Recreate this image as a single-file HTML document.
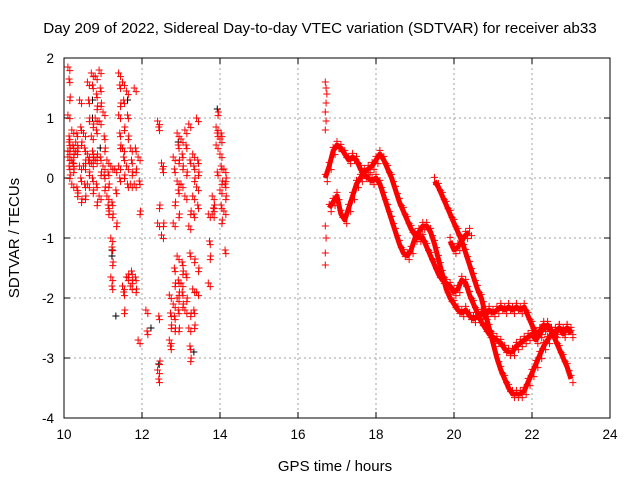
<!DOCTYPE html>
<html><head><meta charset="utf-8"><style>
html,body{margin:0;padding:0;background:#fff;}
svg{display:block;font-family:"Liberation Sans",sans-serif;}
</style></head><body>
<svg id="chart" width="640" height="480" viewBox="0 0 640 480">
<text x="320" y="33" font-size="15.2" text-anchor="middle">Day 209 of 2022, Sidereal Day-to-day VTEC variation (SDTVAR) for receiver ab33</text>
<text x="335" y="471" font-size="15" text-anchor="middle">GPS time / hours</text>
<text x="19" y="238" font-size="15" text-anchor="middle" transform="rotate(-90 19 238)">SDTVAR / TECUs</text>
<g id="grid"></g>
<g id="axes"></g>
<g id="marks"></g>
<rect x="64" y="58" width="546" height="360" fill="none" stroke="#000" stroke-width="1"/>
</svg>
<script>
const xTicks = [10,12,14,16,18,20,22,24];
const yTicks = [-4,-3,-2,-1,0,1,2];
const leftHours = [10.1,10.2,10.3,10.4,10.5,10.6,10.7,10.8,10.9,11.0,11.1,11.2,11.3,11.4,11.5,11.6,11.7,11.8,11.9,12.1,12.4,12.5,12.7,12.8,12.9,13.0,13.1,13.2,13.3,13.4,13.7,13.8,13.9,14.0,14.1];
const leftValues = [
[1.85,1.65,1.35,1.05,0.7,0.5,0.35,0.2,0.05,0.45,0.6],
[0.8,0.55,0.4,0.3,0.25,0.15,-0.1],
[0.6,0.75,0.5,0.45,-0.15,-0.25],
[1.3,0.85,0.6,0.2,0.0,-0.35],
[0.75,0.5,0.3,0.2,-0.1,-0.3],
[1.6,1.3,1.0,0.4,0.3,0.1,-0.1],
[1.75,1.55,0.9,0.7,0.45,0.35,0.25,0.0,-0.2],
[1.7,1.4,1.2,1.0,0.8,0.4,0.3,-0.1,-0.4],
[1.8,1.5,1.25,0.95,0.35,0.1,-0.3],
[1.1,0.7,0.5,0.2,0.05,-0.15],
[0.3,0.1,-0.1,-0.3,-0.45,-0.55],
[0.2,-0.4,-0.6,-1.0,-1.15,-1.4,-1.65,-1.8],
[0.15,-0.2,-0.75],
[1.75,1.55,1.25,1.05,0.75,0.55,0.2,0.0],
[1.6,1.3,0.85,0.5,0.35,0.05,-1.8,-1.9,-2.2],
[1.45,1.05,0.7,0.2,-0.1,-1.6,-1.65],
[0.5,0.3,0.1,-0.1,-1.55,-1.7,-1.8],
[1.5,0.5,0.15,-0.1,-1.65,-1.85],
[0.35,-0.05,-0.55,-2.7],
[-2.2,-2.55],
[0.95,0.85,-0.45,-0.75,-2.3,-3.05,-3.2,-3.35],
[0.25,0.15,-0.75,-0.95],
[-1.95,-2.25,-2.45,-2.7,-2.8],
[0.35,0.15,-0.4,-0.75,-1.5,-1.75,-2.1,-2.3,-2.5],
[0.75,0.55,0.3,-0.05,-0.2,-0.6,-1.3,-1.7,-1.9,-2.0,-2.2,-2.5],
[0.65,0.4,0.2,-0.1,-1.4,-1.55,-1.75,-1.9,-2.1],
[0.8,0.55,0.1,-0.3,-1.6,-2.0,-2.2],
[0.9,0.3,-0.55,-0.8,-1.25,-2.25,-2.5,-2.8,-3.0],
[0.4,0.2,0.0,-0.3,-0.6,-1.35,-1.85,-2.2,-2.45],
[1.0,0.3,0.1,-0.15,-0.45,-1.5,-1.9],
[-0.6,-1.05,-1.3,-1.75],
[-0.3,-0.5,-0.45,-0.6],
[0.55,0.75,1.1,0.85,0.1],
[0.4,0.2,-0.05,-0.2,-0.45,-0.7,0.65,0.75],
[0.15,-0.1,-0.3,-0.55,-1.2,0.0]
];
const blackHours = [10.7,10.7,11.2,11.2,11.3,11.6,12.2,12.4,13.3,13.9,10.9,12.9];
const blackValues = [1.0,1.3,-1.2,-1.3,-2.3,1.3,-2.5,-3.1,-2.9,1.15,0.5,0.6];
const spikeHours = [16.7,16.72,16.74,16.72,16.7,16.72,16.7,16.7,16.72,16.7,16.7];
const spikeValues = [1.6,1.5,1.4,1.25,1.1,0.95,0.8,-0.8,-1.0,-1.25,-1.45];
const t1Hours = [16.7,16.8,16.9,17.0,17.1,17.2,17.3,17.4,17.5,17.6,17.7,17.8,17.9,18.0,18.1,18.2,18.3,18.4,18.5,18.6,18.7,18.8,18.9,19.0,19.1,19.2,19.3,19.4,19.5,19.6,19.7,19.8,19.9,20.0,20.1,20.2,20.3,20.4,20.5,20.6,20.7,20.8,20.9,21.0,21.1,21.2,21.3,21.4,21.5,21.6,21.7,21.8,21.9,22.0,22.1,22.2,22.3,22.4,22.5,22.6,22.7,22.8,22.9,23.0];
const t1Values = [0.0,0.2,0.45,0.55,0.5,0.4,0.3,0.35,0.3,0.15,0.05,0.0,-0.05,0.0,-0.1,-0.3,-0.5,-0.7,-0.9,-1.1,-1.25,-1.3,-1.2,-1.0,-0.9,-0.8,-0.8,-0.9,-1.1,-1.35,-1.6,-1.85,-2.0,-2.1,-2.2,-2.25,-2.2,-2.3,-2.35,-2.3,-2.25,-2.3,-2.2,-2.25,-2.2,-2.15,-2.2,-2.15,-2.2,-2.15,-2.2,-2.15,-2.3,-2.45,-2.6,-2.55,-2.45,-2.5,-2.55,-2.6,-2.5,-2.55,-2.5,-2.6];
const t2Hours = [16.8,16.9,17.0,17.1,17.2,17.3,17.4,17.5,17.6,17.7,17.8,17.9,18.0,18.1,18.2,18.3,18.4,18.5,18.6,18.7,18.8,18.9,19.0,19.1,19.2,19.3,19.4,19.5,19.6,19.7,19.8,19.9,20.0,20.1,20.2,20.3,20.4,20.5,20.6,20.7,20.8,20.9,21.0,21.1,21.2,21.3,21.4,21.5,21.6,21.7,21.8,21.9,22.0,22.1,22.2,22.3,22.4,22.5,22.6,22.7,22.8,22.9,23.0];
const t2Values = [-0.5,-0.4,-0.3,-0.6,-0.7,-0.5,-0.3,-0.1,0.0,0.1,0.15,0.2,0.3,0.4,0.3,0.15,0.0,-0.2,-0.4,-0.55,-0.7,-0.85,-0.95,-1.0,-1.0,-1.15,-1.3,-1.45,-1.6,-1.7,-1.75,-1.8,-1.9,-1.85,-1.7,-1.75,-1.95,-2.1,-2.25,-2.4,-2.5,-2.6,-2.65,-2.7,-2.75,-2.85,-2.9,-2.9,-2.8,-2.75,-2.7,-2.65,-2.6,-2.7,-2.6,-2.5,-2.45,-2.55,-2.7,-2.85,-3.0,-3.15,-3.35];
const t3Hours = [19.5,19.6,19.7,19.8,19.9,20.0,20.1,20.2,20.3,20.4,20.5,20.6,20.7,20.8,20.9,21.0,21.1,21.2,21.3,21.4,21.5,21.6,21.7,21.8,21.9,22.0,22.1,22.2,22.3,22.4,22.5,22.6,22.7,22.8,22.9,23.0];
const t3Values = [-0.05,-0.15,-0.3,-0.45,-0.6,-0.75,-0.9,-1.05,-1.25,-1.45,-1.65,-1.85,-2.0,-2.25,-2.5,-2.75,-3.0,-3.2,-3.35,-3.5,-3.6,-3.6,-3.6,-3.55,-3.4,-3.25,-3.1,-2.95,-2.8,-2.7,-2.6,-2.55,-2.5,-2.6,-2.5,-2.55];
const branchHours = [19.9,20.0,20.1,20.2,20.3,20.4];
const branchValues = [-1.05,-1.2,-1.15,-1.05,-0.95,-0.9];

const NS='http://www.w3.org/2000/svg';
const X0=64,X1=610,Y0=418,Y1=58;
function xs(h){return X0+(h-10)/(24-10)*(X1-X0);}
function ys(v){return Y0-(v+4)/(2+4)*(Y0-Y1);}
function mk(tag,attrs,parent){const e=document.createElementNS(NS,tag);for(const k in attrs)e.setAttribute(k,attrs[k]);parent.appendChild(e);return e;}
const grid=document.getElementById('grid'),axes=document.getElementById('axes'),marks=document.getElementById('marks');
xTicks.forEach(t=>{
  const x=xs(t);
  if(t>10&&t<24){const g=mk('line',{x1:x,x2:x,y1:Y1,y2:Y0,stroke:'#a0a0a0','stroke-dasharray':'2,3'},grid);
  
  }
  const tk=mk('path',{d:`M${x},${Y0}v-6M${x},${Y1}v6`,stroke:'#000'},axes);
  
  
  const lb=mk('text',{x:x,y:Y0+21,'font-size':13.5,'text-anchor':'middle'},axes);lb.textContent=t;
  
  
});
yTicks.forEach(t=>{
  const y=ys(t);
  if(t>-4&&t<2){const g=mk('line',{x1:X0,x2:X1,y1:y,y2:y,stroke:'#a0a0a0','stroke-dasharray':'2,3'},grid);
  
  }
  const tk=mk('path',{d:`M${X0},${y}h6M${X1},${y}h-6`,stroke:'#000'},axes);
  
  
  const lb=mk('text',{x:X0-10,y:y+5,'font-size':13.5,'text-anchor':'end'},axes);lb.textContent=t;
  
  
});
function plus(h,v,color){
  const x=xs(h),y=ys(v);
  const p=mk('path',{d:`M${x-3.5},${y}h7M${x},${y-3.5}v7`,stroke:color,'stroke-width':1},marks);
  
  
}
function band(hs,vs){
  const pl=mk('polyline',{points:hs.map((h,i)=>xs(h)+','+ys(vs[i])).join(' '),fill:'none',stroke:'#ff0000','stroke-width':5,'stroke-linejoin':'round'},marks);
  
  
  hs.forEach((h,i)=>{plus(h,vs[i]+0.06,'#ff0000');plus(h+0.05,vs[i]-0.06,'#ff0000');});
}
blackHours.forEach((h,i)=>plus(h+0.03,blackValues[i],'#000'));
leftHours.forEach((h,i)=>leftValues[i].forEach((v,j)=>{plus(h+(j%3)*0.03,v,'#ff0000');plus(h+0.05,v-0.06,'#ff0000');}));
spikeHours.forEach((h,i)=>plus(h,spikeValues[i],'#ff0000'));
band(t1Hours,t1Values);
band(t2Hours,t2Values);
band(t3Hours,t3Values);
band(branchHours,branchValues);
</script>
</body></html>
